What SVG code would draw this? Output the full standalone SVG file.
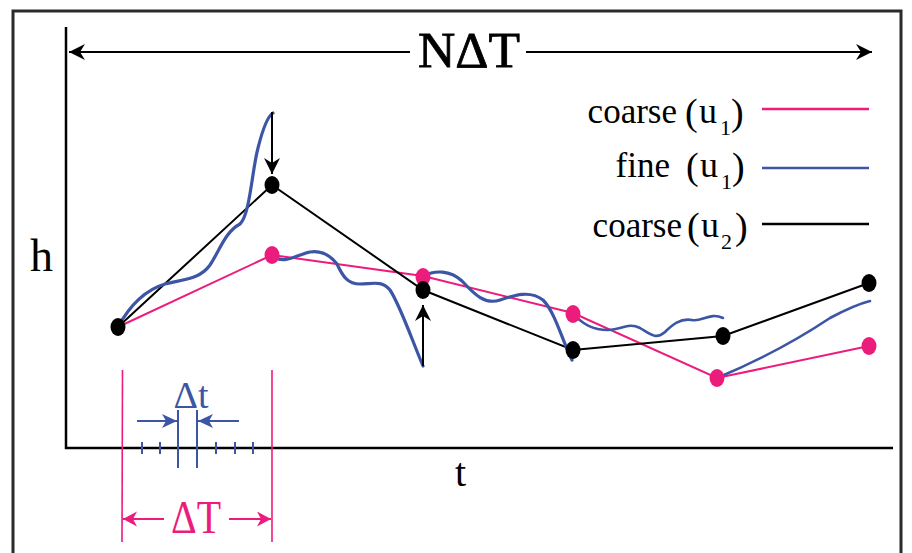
<svg xmlns="http://www.w3.org/2000/svg" width="912" height="553" viewBox="0 0 912 553">
<style>
  .pk{stroke:#ec1c7c;fill:none}
  .bl{stroke:#3c56a5;fill:none}
  .bk{stroke:#000;fill:none}
  .dotk{fill:#000}
  .dotp{fill:#ec1c7c}
</style>
<defs>
  <marker id="ahK" markerUnits="userSpaceOnUse" markerWidth="18" markerHeight="18" refX="16" refY="8" orient="auto">
    <path d="M0,0 L16,8 L0,16 L5,8 Z" fill="#000"/>
  </marker>
  <marker id="ahP" markerUnits="userSpaceOnUse" markerWidth="16" markerHeight="16" refX="14" refY="7.5" orient="auto">
    <path d="M0,0 L14,7.5 L0,15 L4,7.5 Z" fill="#ec1c7c"/>
  </marker>
  <marker id="ahB" markerUnits="userSpaceOnUse" markerWidth="16" markerHeight="16" refX="15" refY="7" orient="auto">
    <path d="M0,0 L15,7 L0,14 L4,7 Z" fill="#3c56a5"/>
  </marker>
</defs>
<rect x="0" y="0" width="912" height="553" fill="#fff"/>
<g id="frame">
  <rect x="13" y="11" width="888" height="560" fill="none" stroke="#2a2a2a" stroke-width="3"/>
</g>
<g id="axes">
  <polyline points="66,27 66,448 893,448" class="bk" stroke-width="2.5"/>
  <text x="30" y="271" font-size="46" font-family="Liberation Serif" fill="#000">h</text>
  <text x="455" y="486" font-size="40" font-family="Liberation Serif" fill="#000">t</text>
</g>
<g id="span-NdT">
  <line x1="410" y1="52" x2="69" y2="52" class="bk" stroke-width="2" marker-end="url(#ahK)"/>
  <line x1="526" y1="52" x2="872" y2="52" class="bk" stroke-width="2" marker-end="url(#ahK)"/>
  <text x="469" y="67" font-size="50" text-anchor="middle" textLength="102" lengthAdjust="spacingAndGlyphs" fill="#000" stroke="#000" stroke-width="0.8" font-family="Liberation Serif">NΔT</text>
</g>
<g id="connectors">
  <polyline id="coarse-u1-line" class="pk" stroke-width="2" points="118,327 272,255 423,276 573,313 717,378 869,346"/>
  <polyline id="coarse-u2-line" class="bk" stroke-width="2" points="118,327 272,185 423,290 573,350 723,336 869,283"/>
  <g id="fine-u1" class="bl" stroke-width="3.2" stroke-linecap="round">
    <path d="M118,327 C130,305 145,290 165,284 C185,279 200,279 210,265 C220,250 225,232 240,224 C250,215 252,170 258,148 C263,128 268,116 273,113"/>
    <path d="M272,256 C285,265 295,255 310,252 C322,250 330,255 337,264 C343,277 348,284 360,284 C372,284 382,280 390,290 C400,305 412,340 423,366"/>
    <path d="M423,276 C435,270 450,270 462,281 C475,295 485,305 500,300 C515,295 530,290 543,300 C555,312 562,340 572,360"/>
    <path d="M573,313 C580,322 590,330 608,330 C622,330 628,322 640,328 C650,334 656,340 665,332 C672,325 680,318 692,320 C702,322 710,312 723,318" stroke-width="2.6"/>
    <path d="M717,378 C760,360 800,338 830,318 C845,310 858,304 870,301" stroke-width="2.6"/>
  </g>
  <line x1="272" y1="112" x2="272" y2="174" class="bk" stroke-width="2" marker-end="url(#ahK)"/>
  <line x1="423" y1="366" x2="423" y2="305" class="bk" stroke-width="2" marker-end="url(#ahK)"/>
</g>
<g id="coarse-u2-points">
  <ellipse class="dotk" cx="118" cy="327" rx="7.5" ry="9"/>
  <ellipse class="dotk" cx="272" cy="185" rx="7.5" ry="9"/>
  <ellipse class="dotp" cx="423" cy="277" rx="7.5" ry="9"/>
  <ellipse class="dotk" cx="423" cy="290" rx="7.5" ry="9"/>
  <ellipse class="dotk" cx="573" cy="350" rx="7.5" ry="9"/>
  <ellipse class="dotk" cx="723" cy="336" rx="7.5" ry="9"/>
  <ellipse class="dotk" cx="869" cy="283" rx="7.5" ry="9"/>
</g>
<g id="coarse-u1-points">
  <ellipse class="dotp" cx="272" cy="255" rx="7.5" ry="9"/>
  <ellipse class="dotp" cx="573" cy="314" rx="7.5" ry="9"/>
  <ellipse class="dotp" cx="717" cy="378" rx="7.5" ry="9"/>
  <ellipse class="dotp" cx="869" cy="346" rx="7.5" ry="9"/>
</g>
<g id="legend" font-family="Liberation Serif" fill="#000">
  <g id="legend-coarse-u1">
    <text x="677" y="123" font-size="35" text-anchor="end">coarse</text>
    <text font-size="38"><tspan x="685" y="125">(</tspan><tspan x="699" y="123" font-size="36">u</tspan><tspan x="720" y="135" font-size="22">1</tspan><tspan x="731" y="125">)</tspan></text>
    <line x1="762" y1="109" x2="869" y2="109" class="pk" stroke-width="2.5"/>
  </g>
  <g id="legend-fine-u1">
    <text x="670" y="177" font-size="35" text-anchor="end">fine</text>
    <text font-size="38"><tspan x="686" y="179">(</tspan><tspan x="700" y="177" font-size="36">u</tspan><tspan x="721" y="189" font-size="22">1</tspan><tspan x="732" y="179">)</tspan></text>
    <line x1="762" y1="168" x2="869" y2="168" class="bl" stroke-width="2.5"/>
  </g>
  <g id="legend-coarse-u2">
    <text x="682" y="237" font-size="35" text-anchor="end">coarse</text>
    <text font-size="38"><tspan x="687" y="239">(</tspan><tspan x="701" y="237" font-size="36">u</tspan><tspan x="721" y="249" font-size="22">2</tspan><tspan x="735" y="239">)</tspan></text>
    <line x1="762" y1="224" x2="869" y2="224" class="bk" stroke-width="2.5"/>
  </g>
</g>
<g id="dim-dT">
  <line x1="122.5" y1="370" x2="122" y2="542" class="pk" stroke-width="1.6"/>
  <line x1="272" y1="370" x2="272" y2="542" class="pk" stroke-width="1.6"/>
  <line x1="164" y1="519" x2="123" y2="519" class="pk" stroke-width="2" marker-end="url(#ahP)"/>
  <line x1="229" y1="519" x2="271" y2="519" class="pk" stroke-width="2" marker-end="url(#ahP)"/>
  <text x="196" y="533" font-size="46" text-anchor="middle" textLength="50" lengthAdjust="spacingAndGlyphs" fill="#ec1c7c" font-family="Liberation Serif">ΔT</text>
</g>
<g id="dim-dt" class="bl" stroke-width="2">
  <line x1="178" y1="410" x2="178" y2="468"/>
  <line x1="197" y1="410" x2="197" y2="468"/>
  <line x1="142" y1="442" x2="142" y2="454"/>
  <line x1="160" y1="442" x2="160" y2="454"/>
  <line x1="216" y1="442" x2="216" y2="454"/>
  <line x1="235" y1="442" x2="235" y2="454"/>
  <line x1="253" y1="442" x2="253" y2="454"/>
  <line x1="137" y1="421" x2="177" y2="421" marker-end="url(#ahB)"/>
  <line x1="239" y1="421" x2="198" y2="421" marker-end="url(#ahB)"/>
  <text x="191" y="408" font-size="38" text-anchor="middle" stroke="none" fill="#3c56a5" font-family="Liberation Serif">Δt</text>
</g>
</svg>
